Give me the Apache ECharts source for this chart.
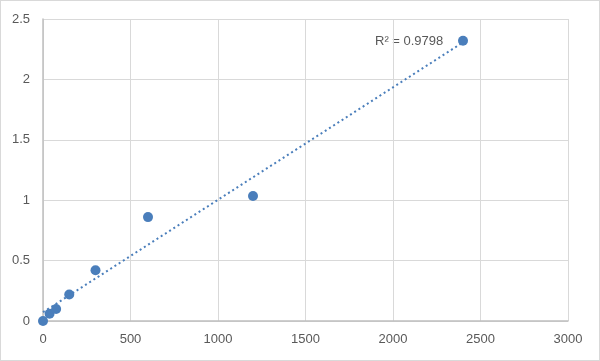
<!DOCTYPE html>
<html><head><meta charset="utf-8">
<script src="https://cdn.jsdelivr.net/npm/echarts@6/dist/echarts.min.js"></script>
<style>html,body{margin:0;padding:0;background:#fff}#c{width:600px;height:361px;box-sizing:border-box;border:1px solid #d9d9d9}</style>
</head><body><div id="c"></div>
<script>
const xValues = [0, 37.5, 75, 150, 300, 600, 1200, 2400];
const yValues = [0, 0.06, 0.10, 0.22, 0.42, 0.86, 1.035, 2.32];
const xTicks = [0, 500, 1000, 1500, 2000, 2500, 3000];
const yTicks = [0, 0.5, 1, 1.5, 2, 2.5];
const r2Text = 'R² = 0.9798';

const n = xValues.length;
const mx = xValues.reduce((a,b)=>a+b,0)/n;
const my = yValues.reduce((a,b)=>a+b,0)/n;
let sxy=0, sxx=0;
for(let i=0;i<n;i++){sxy+=(xValues[i]-mx)*(yValues[i]-my);sxx+=(xValues[i]-mx)**2;}
const slope=sxy/sxx, icpt=my-slope*mx;
const xMin=Math.min(...xValues), xMax=Math.max(...xValues);
const trend=[[xMin,icpt+slope*xMin],[xMax,icpt+slope*xMax]];

const chart = echarts.init(document.getElementById('c'), null, {renderer:'canvas'});
const color='#4a7ebb';
const lab={color:'#595959',fontSize:13,fontFamily:'Liberation Sans, Arial',margin:12,formatter:v=>String(v)};
chart.setOption({
  animation:false,
  grid:{left:42,right:31,top:18,bottom:39,containLabel:false},
  xAxis:{type:'value',min:xTicks[0],max:xTicks[xTicks.length-1],interval:500,
    axisLine:{show:true,lineStyle:{color:'#bfbfbf',width:1.5}},axisTick:{show:false},
    axisLabel:lab,
    splitLine:{show:true,lineStyle:{color:'#d9d9d9',width:1}}},
  yAxis:{type:'value',min:yTicks[0],max:yTicks[yTicks.length-1],interval:0.5,
    axisLine:{show:true,lineStyle:{color:'#bfbfbf',width:1.5}},axisTick:{show:false},
    axisLabel:Object.assign({},lab,{margin:13}),
    splitLine:{show:true,lineStyle:{color:'#d9d9d9',width:1}}},
  series:[
    {type:'line',data:trend,symbol:'none',lineStyle:{color:color,width:2,type:[2,3]},z:2},
    {type:'scatter',data:xValues.map((x,i)=>[x,yValues[i]]),symbolSize:10,itemStyle:{color:color,opacity:1},z:3}
  ],
  graphic:[{type:'text',left:374,top:34,style:{text:r2Text,fill:'#595959',font:'13px Liberation Sans, Arial'}}]
});
</script></body></html>
